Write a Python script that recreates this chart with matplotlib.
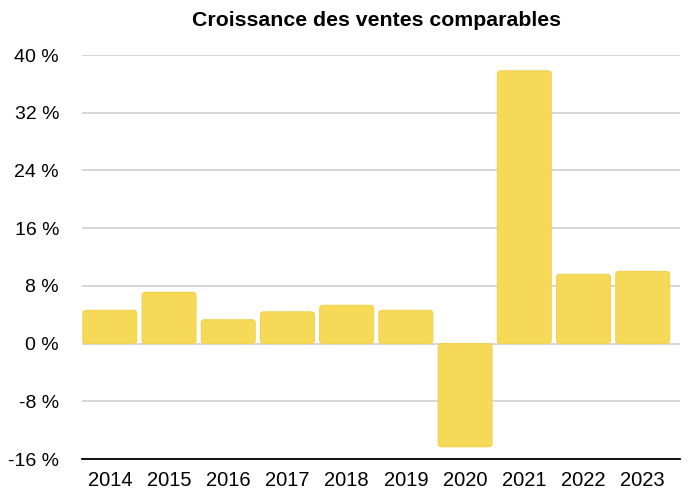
import matplotlib
matplotlib.use("Agg")
import matplotlib.pyplot as plt
from matplotlib.patches import FancyBboxPatch

years = ["2014", "2015", "2016", "2017", "2018", "2019", "2020", "2021", "2022", "2023"]
growth = [4.6, 7.1, 3.3, 4.4, 5.3, 4.6, -14.3, 37.8, 9.6, 10.0]
yticks = [-16, -8, 0, 8, 16, 24, 32, 40]

plt.rcParams['font.family'] = ['Liberation Sans', 'DejaVu Sans']

fig = plt.figure(figsize=(6.89, 4.99), dpi=100)
ax = fig.add_axes([82/689, 1 - 459/499, 598/689, 404/499])

ax.set_ylim(-16, 40)
ax.set_xlim(-0.47, 9.63)

xs = range(len(years))
bars = ax.bar(xs, growth, width=0.91, color="#F7D958", zorder=3)

# swap the plain rectangles for slightly rounded ones
px_x = 598 / (9.63 + 0.47)
px_y = 404 / 56
for b in bars:
    x, y = b.get_xy()
    w, h = b.get_width(), b.get_height()
    if h < 0:
        y, h = y + h, -h
    b.set_visible(False)
    ax.add_patch(FancyBboxPatch((x, y), w, h,
                                boxstyle="round,pad=0,rounding_size=0.055",
                                mutation_aspect=px_x / px_y,
                                facecolor="#F7D958", edgecolor="#F2D250",
                                linewidth=0.8, zorder=3))

ax.set_yticks(yticks)
ax.set_yticklabels([f"{v} %" for v in yticks])
ax.set_xticks(list(xs))
ax.set_xticklabels(years)
ax.tick_params(axis="y", length=0, pad=16.5, labelsize=14)
ax.tick_params(axis="x", length=0, pad=9, labelsize=14.5)

ax.grid(axis="y", color="#d3d3d3", linewidth=1.3, zorder=0)
for s in ["top", "right", "left"]:
    ax.spines[s].set_visible(False)
ax.spines["bottom"].set_color("black")
ax.spines["bottom"].set_linewidth(1.3)
ax.spines["bottom"].set_zorder(4)

fig.text(376/689, 1 - 20/499, "Croissance des ventes comparables",
         ha="center", va="center", fontsize=15.3, fontweight="bold")

fig.savefig("out.png", dpi=100)
